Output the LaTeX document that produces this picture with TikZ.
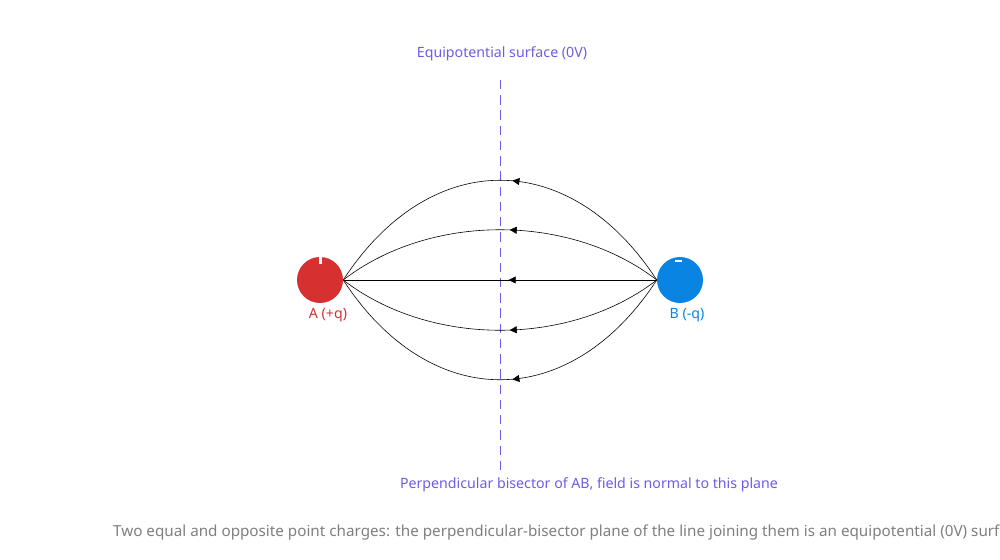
\documentclass[tikz,border=0pt]{standalone}
\usepackage{fontspec}
\setmainfont{Noto Sans}
\usetikzlibrary{decorations.markings,arrows.meta}
\definecolor{cred}{HTML}{D63031}
\definecolor{cblue}{HTML}{0984E3}
\definecolor{cpur}{HTML}{6C5CE7}
\definecolor{cgray}{HTML}{7F7F7F}
\begin{document}
\begin{tikzpicture}[x=0.03cm,y=-0.03cm,
  field/.style={black,line width=0.5pt,postaction={decorate},decoration={markings,mark=at position 0.55 with {\arrow{Triangle[reversed,length=6pt,width=6pt]}}}},
  lbl/.style={font=\fontsize{12.1pt}{14pt}\selectfont}]
\useasboundingbox (0,0) rectangle (1000,560);
\draw[cpur,dashed,dash pattern=on 8pt off 5pt,line width=0.6pt] (500,80) -- (500,470);
\node[lbl,text=cpur] (top) at (502,54) {Equipotential surface (0V)};
\node[lbl,text=cpur] (bot) at (589,485) {Perpendicular bisector of AB, field is normal to this plane};
\node[circle,fill=cred,minimum size=46*0.03cm,inner sep=0] (A) at (320,280) {};
\node[circle,fill=cblue,minimum size=46*0.03cm,inner sep=0] (B) at (680,280) {};
\fill[white] (318.5,256) rectangle (321.5,264);
\fill[white] (675,260) rectangle (682,262);
\node[lbl,text=cred] (la) at (328,315) {A (+q)};
\node[lbl,text=cblue] (lb) at (687,315) {B (-q)};
\coordinate (a) at (A.east);
\coordinate (b) at (B.west);
\draw[field] (a) -- (b);
\foreach \yy in {147,213,347,413}{
  \draw[field] (a) .. controls (430,\yy) and (570,\yy) .. (b);
}
\node[anchor=west,text=cgray,font=\fontsize{13pt}{15pt}\selectfont] (cap) at (109,532) {Two equal and opposite point charges: the perpendicular-bisector plane of the line joining them is an equipotential (0V) surface.};
\end{tikzpicture}
\end{document}
